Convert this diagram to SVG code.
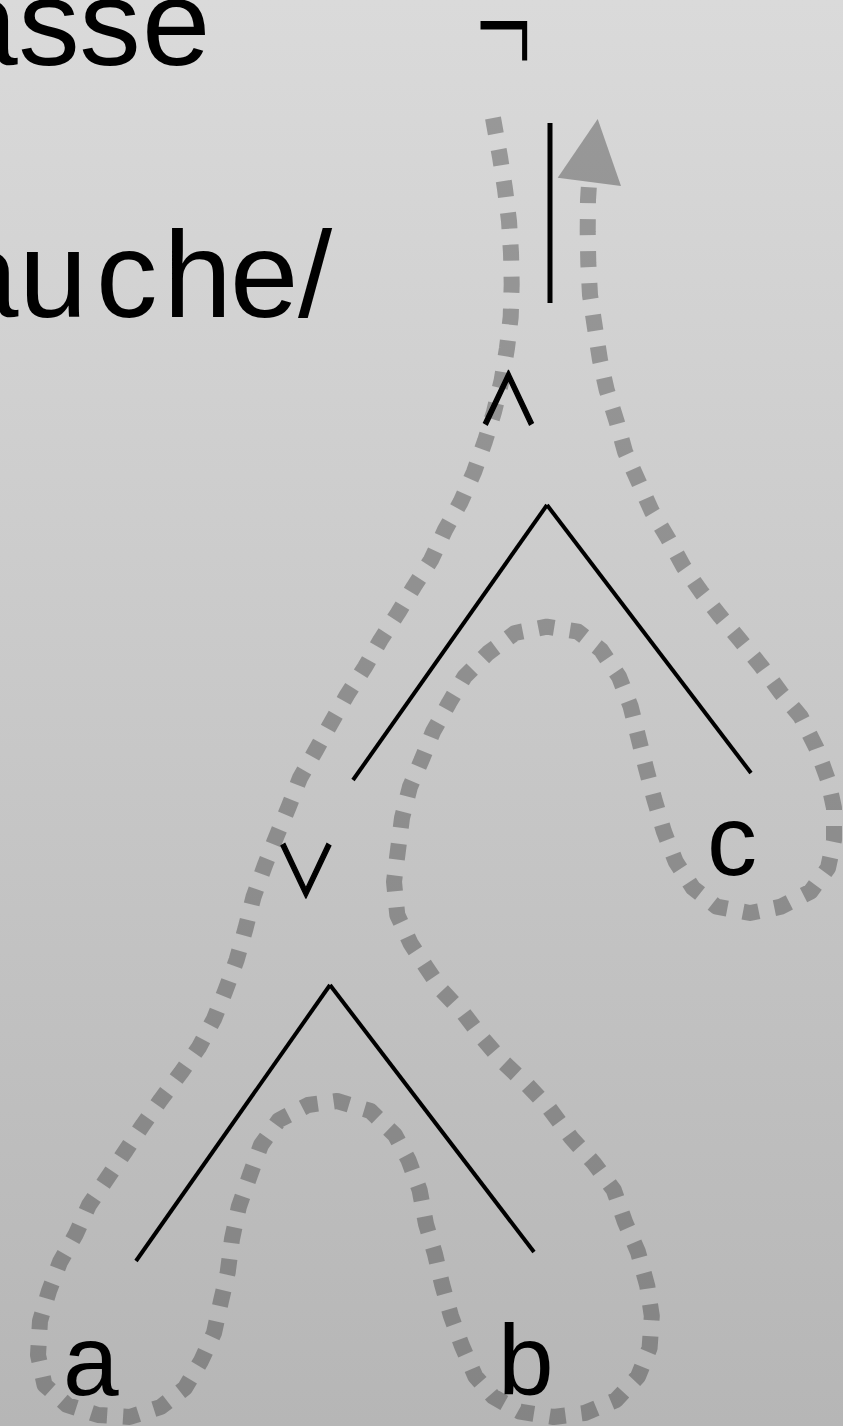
<svg xmlns="http://www.w3.org/2000/svg" width="843" height="1426" viewBox="0 0 843 1426">
<defs>
<linearGradient id="bg" x1="0" y1="0" x2="0" y2="1">
<stop offset="0" stop-color="#dadada"/>
<stop offset="1" stop-color="#b6b6b6"/>
</linearGradient>
<style>
.lbl{font-family:"Liberation Sans","Helvetica Neue",Arial,sans-serif;fill:#000}
.sym{font-family:"DejaVu Sans",sans-serif;fill:#000}
.op{font-family:"Noto Sans CJK JP","DejaVu Sans",sans-serif;font-weight:400;fill:#000;stroke:#000;stroke-width:1.4}
.tree{stroke:#000;stroke-width:4;fill:none;stroke-linecap:butt}
.trail{fill:none;stroke:#404040;stroke-opacity:0.42;stroke-width:16;stroke-dasharray:16 16;stroke-linejoin:round}
.head{fill:#404040;fill-opacity:0.42}
</style>
</defs>
<rect x="0" y="0" width="843" height="1426" fill="url(#bg)"/>
<g id="title">
<text class="lbl" x="-50.7 18.3 79.3 142" y="65" font-size="123">asse</text>
<text class="lbl" x="-50 19 96 163.6 230 298" y="317" font-size="123">auche/</text>
</g>
<g id="connectors">
<path class="trail" d="M493,118 L500,157 L505,189 L509,221 L511,253 L511.7,284 L510.7,317 L507,348 L501.7,380 L494,412 L485,441 L474,472 L460.6,502 L445,530 L431,560 L413.7,587 L398,613 L380.5,640 L365,667 L347,695 L331.6,722 L316,750 L300,778 L288.6,807 L277,835 L265,865 L253.5,897 L245.5,928.5 L236.6,960 L225.4,990.6 L214,1019 L198.7,1047.7 L180.8,1072.8 L160.7,1099.7 L142.9,1124.8 L125,1151.7 L107,1178.5 L89,1205 L75.9,1234 L60,1262 L49,1291 L40,1321 L38,1355 L44.6,1385 L67,1405 L98,1415 L129.5,1417 L160.7,1407 L185,1388 L201,1361 L214,1333 L221,1301 L227.7,1272.5 L232,1239 L238.8,1207 L250,1175 L261,1145 L279,1120 L308,1105 L337,1101 L370.5,1111 L395,1135 L408.5,1160 L419.6,1190 L426,1224 L435,1254 L442,1284 L451,1316 L462,1346 L475.4,1376.5 L493,1396.6 L520,1411.7 L553.6,1417 L584.8,1413 L616,1400 L638,1376.5 L649.6,1348 L651.8,1316 L647.3,1286 L638,1252 L625,1222 L613.8,1190 L593.8,1163 L571.4,1138 L549,1108 L527,1084.6 L502,1061 L482,1037.6 L464,1014 L442,990.6 L426,967 L410.7,943.6 L397.3,915 L394,881.7 L398,850 L402,818 L410,786.7 L421.6,760 L433,731.7 L449,703 L464.6,676.7 L488,653 L515,633 L546.7,626.7 L578,631.7 L601,650 L619,676.7 L630.7,706.7 L638.5,738 L646,768 L654,798 L664,831.7 L675.7,861.7 L693,888 L716.7,906.7 L750,913 L781,906.7 L810.5,891.7 L828,868 L834,840 L834,808 L828,780 L816.4,748 L800.7,716.7 L781,693 L761.7,666.7 L740,640 L720.6,616.7 L701,591.7 L683.5,566.7 L667.8,538 L652,511.7 L638.5,481.7 L625,451.7 L616.7,421.7 L606.7,390 L600,360 L595,328 L590,295 L588.3,263 L587.7,231.7 L588,200 L589,184"/>
<polygon class="head" points="597.7,119 557.7,177.7 621,186"/>
</g>
<g id="node-not">
<text class="sym" transform="translate(504.5,79) scale(1,1.9)" x="0" y="0" font-size="74" font-weight="200" stroke="#000" stroke-width="1.5" text-anchor="middle">¬</text>
<line class="tree" x1="550" y1="123" x2="550" y2="303" style="stroke-width:5"/>
</g>
<g id="node-and">
<text class="op" transform="translate(508.5,425) scale(0.92,1)" x="0" y="0" font-size="70" text-anchor="middle">∧</text>
<line class="tree" x1="547" y1="505" x2="353" y2="780"/>
<line class="tree" x1="547" y1="505" x2="751" y2="773"/>
</g>
<g id="node-or">
<text class="op" transform="translate(306,897) scale(0.92,1)" x="0" y="0" font-size="70" text-anchor="middle">∨</text>
<line class="tree" x1="330" y1="985" x2="136" y2="1261"/>
<line class="tree" x1="330" y1="985" x2="534" y2="1252"/>
</g>
<g id="node-a"><text class="lbl" x="63" y="1395" font-size="100">a</text></g>
<g id="node-b"><text class="lbl" x="498" y="1395" font-size="100">b</text></g>
<g id="node-c"><text class="lbl" x="707" y="875" font-size="100">c</text></g>
</svg>
